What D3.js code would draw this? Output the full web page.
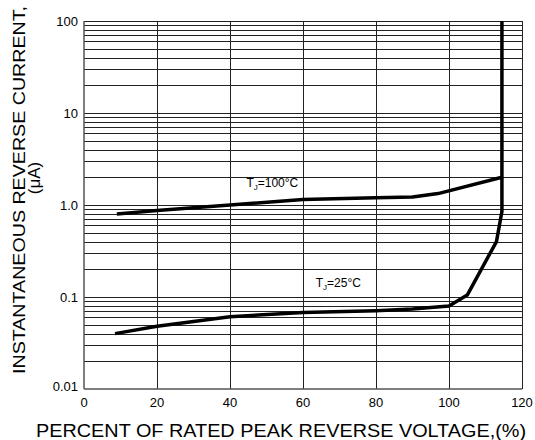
<!DOCTYPE html>
<html>
<head>
<meta charset="utf-8">
<script src="https://cdn.jsdelivr.net/npm/d3@7"></script>
<style>
  body { margin: 0; background: #fff; }
  text { font-family: "Liberation Sans", Arial, sans-serif; fill: #000; }
</style>
</head>
<body>
<script>
'use strict';

// x ticks (percent of rated peak reverse voltage)
const xTicks = [0, 20, 40, 60, 80, 100, 120];
// y ticks (reverse current, uA, log scale)
const yTicks = [0.01, 0.1, 1, 10, 100];
const yTickLabels = ["0.01", "0.1", "1.0", "10", "100"];

// TJ = 100°C curve
const hotX = [9, 20, 40, 60, 80, 90, 97, 114.5, 114.5];
const hotY = [0.8, 0.87, 1.0, 1.15, 1.2, 1.22, 1.33, 2.0, 100];

// TJ = 25°C curve
const coldX = [8.5, 20, 40, 60, 80, 90, 100, 105, 113, 114.5, 114.5];
const coldY = [0.04, 0.048, 0.061, 0.068, 0.071, 0.074, 0.08, 0.105, 0.4, 0.85, 2.0];

const width = 535, height = 440;
const margin = { left: 84, right: 13, top: 21, bottom: 51 };

const svg = d3.select('body').append('svg')
  .attr('width', width)
  .attr('height', height);

const xScale = d3.scaleLinear()
  .domain([0, 120])
  .range([margin.left, width - margin.right]);

const yScale = d3.scaleLog()
  .domain([0.01, 100])
  .range([height - margin.bottom, margin.top]);

// horizontal grid: 1..9 per decade
let minorY = [];
for (let d = 0.01; d < 100; d *= 10) {
  for (let m = 2; m <= 9; m++) minorY.push(+(d * m).toPrecision(3));
}
minorY = minorY.concat([0.1, 1, 10, 100]);

svg.append('g')
  .selectAll('line')
  .data(minorY)
  .enter()
  .append('line')
    .attr('x1', xScale(0))
    .attr('x2', xScale(120))
    .attr('y1', d => Math.round(yScale(d)) + 0.5)
    .attr('y2', d => Math.round(yScale(d)) + 0.5)
    .attr('stroke', '#222')
    .attr('stroke-width', 1);

// vertical grid
svg.append('g')
  .selectAll('line')
  .data([20, 40, 60, 80, 100, 120])
  .enter()
  .append('line')
    .attr('x1', d => Math.round(xScale(d)) + 0.5)
    .attr('x2', d => Math.round(xScale(d)) + 0.5)
    .attr('y1', yScale(100))
    .attr('y2', yScale(0.01))
    .attr('stroke', '#222')
    .attr('stroke-width', 1);

// axes (left and bottom lines)
svg.append('line')
  .attr('x1', xScale(0)).attr('x2', xScale(0))
  .attr('y1', yScale(100)).attr('y2', yScale(0.01))
  .attr('stroke', '#555').attr('stroke-width', 1.5);
svg.append('line')
  .attr('x1', xScale(0)).attr('x2', xScale(120))
  .attr('y1', yScale(0.01)).attr('y2', yScale(0.01))
  .attr('stroke', '#555').attr('stroke-width', 1.5);

// tick labels
svg.append('g')
  .selectAll('text')
  .data(xTicks)
  .enter()
  .append('text')
    .attr('x', d => xScale(d))
    .attr('y', yScale(0.01) + 18)
    .attr('text-anchor', 'middle')
    .style('font-size', '13px')
    .text(d => d);

svg.append('g')
  .selectAll('text')
  .data(yTicks)
  .enter()
  .append('text')
    .attr('x', xScale(0) - 6)
    .attr('y', (d, i) => yScale(d) + (i === 0 ? 2 : 5))
    .attr('text-anchor', 'end')
    .style('font-size', '13px')
    .text((d, i) => yTickLabels[i]);

// curves
const line = d3.line()
  .x(d => xScale(d[0]))
  .y(d => yScale(d[1]));

function drawCurve(xs, ys) {
  svg.append('path')
    .datum(xs.map((x, i) => [x, ys[i]]))
    .attr('d', line)
    .attr('fill', 'none')
    .attr('stroke', '#000')
    .attr('stroke-width', 3.5)
    .attr('stroke-linejoin', 'round');
}
drawCurve(hotX, hotY);
drawCurve(coldX, coldY);

// curve labels
function curveLabel(x, y, temp) {
  const t = svg.append('text')
    .attr('x', x)
    .attr('y', y)
    .style('font-size', '12px');
  t.append('tspan').text('T');
  t.append('tspan').attr('dy', 3).style('font-size', '8px').text('J');
  t.append('tspan').attr('dy', -3).text('=' + temp + '°C');
}
curveLabel(xScale(44.5), yScale(1.55), 100);
curveLabel(xScale(63.5), yScale(0.128), 25);

// axis titles
svg.append('text')
  .attr('x', 281)
  .attr('y', 437)
  .attr('text-anchor', 'middle')
  .attr('textLength', 490)
  .attr('lengthAdjust', 'spacingAndGlyphs')
  .style('font-size', '17.5px')
  .text('PERCENT OF RATED PEAK REVERSE VOLTAGE,(%)');

svg.append('text')
  .attr('transform', 'translate(25, 190)rotate(-90)')
  .attr('text-anchor', 'middle')
  .attr('textLength', 368)
  .attr('lengthAdjust', 'spacingAndGlyphs')
  .style('font-size', '17px')
  .text('INSTANTANEOUS REVERSE CURRENT,');

svg.append('text')
  .attr('transform', 'translate(40, 178)rotate(-90)')
  .attr('text-anchor', 'middle')
  .style('font-size', '17px')
  .text('(μA)');
</script>
</body>
</html>
